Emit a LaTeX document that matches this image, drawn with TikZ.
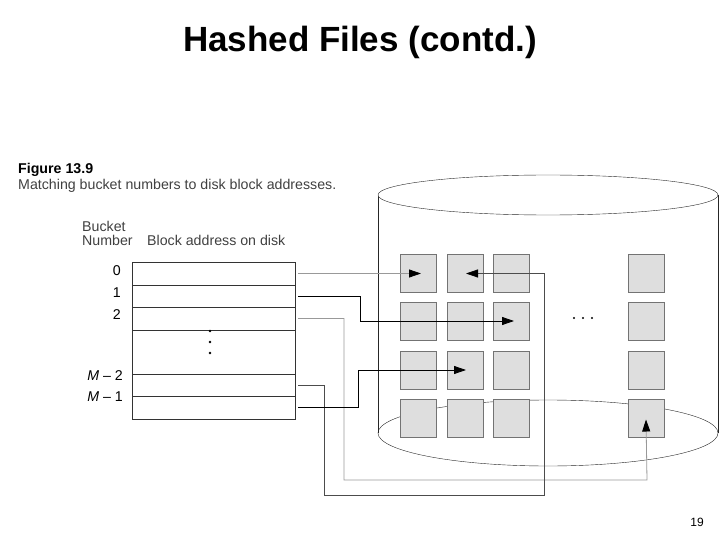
\documentclass[tikz,border=0pt]{standalone}
\usepackage{fontspec}
\setmainfont{Liberation Sans}
\usetikzlibrary{arrows.meta,calc,positioning}
\begin{document}
\begin{tikzpicture}[x=1pt,y=-1pt]
\tikzstyle{block}=[rectangle, draw=black!55, fill=black!13, minimum width=36pt, minimum height=38pt, inner sep=0pt]
\tikzstyle{row}=[rectangle, draw=black!80, minimum width=163pt, minimum height=22.5pt, inner sep=0pt]
\tikzstyle{small}=[font=\fontsize{14.2}{16}\selectfont, inner sep=0pt]
\tikzstyle{lbl}=[small, anchor=east]
\tikzstyle{connect}=[-{Triangle[black, length=12pt, width=8pt]}, thick]
\tikzstyle{grey}=[connect, black!40]
\useasboundingbox (0,0) rectangle (720,540);

  % title and caption
  \node (title) at (360,42) {\fontsize{35}{40}\selectfont\bfseries Hashed Files (contd.)};
  \node[small, anchor=west] (fig) at (18,170) {\bfseries Figure 13.9};
  \node[small, anchor=west, black!75] (cap) at (18,186) {Matching bucket numbers to disk block addresses.};
  \node[small, anchor=west, black!75] (bucket) at (82,226) {Bucket};
  \node[small, anchor=west, black!75] (number) at (82,240) {Number};
  \node[small, anchor=west, black!75] (addr) at (147,240) {Block address on disk};
  \node[font=\fontsize{12}{14}\selectfont] (page) at (697,522) {19};

  % disk
  \draw[black!85] (548,433) ellipse (170 and 33);
  \draw[black!85] (378,195) -- (378,433) (718,195) -- (718,433);
  \draw[black!85, fill=white] (548,195) ellipse (170 and 20);
  \foreach \r/\y in {0/273.5, 1/321, 2/370, 3/418.5}
    \foreach \c/\x in {0/418, 1/465, 2/511, 3/646}
      \node[block] (b\r\c) at (\x,\y) {};
  \foreach \x in {574,583,592}
    \fill (\x,318) circle (1.1);

  % bucket table
  \node[row] (r0)  at (213.5,273.5) {};
  \node[row] (r1)  at (213.5,296) {};
  \node[row] (r2)  at (213.5,318.5) {};
  \node[row, minimum height=44pt] (rd) at (213.5,352) {};
  \node[row] (rm2) at (213.5,385) {};
  \node[row] (rm1) at (213.5,407.5) {};
  \foreach \y in {331,342,353}
    \fill (210,\y) circle (1.4);
  \node[lbl] (l0)  at (121,271) {0};
  \node[lbl] (l1)  at (121,293) {1};
  \node[lbl] (l2)  at (121,315) {2};
  \node[lbl] (lm2) at (123,376) {\textit{M} -- 2};
  \node[lbl] (lm1) at (123,397) {\textit{M} -- 1};

  % pointers to blocks
  \coordinate (t0) at ($(r0.east)+(3,0)$);
  \coordinate (t1) at ($(r1.east)+(3,0)$);
  \coordinate (t2) at ($(r2.east)+(3,0)$);
  \coordinate (tm2) at ($(rm2.east)+(3,0)$);
  \coordinate (tm1) at ($(rm1.east)+(3,0)$);
  \coordinate (h00) at ($(b00)+(3,0)$);
  \coordinate (h01) at ($(b01)+(1,0)$);
  \coordinate (h12) at ($(b12)+(3,0)$);
  \coordinate (h21) at ($(b21)+(1,0)$);
  \coordinate (h33) at ($(b33)+(0,1)$);
  \draw[grey] (t0) -- (h00);
  \draw[connect] (t1) -- (360,296) -- (360,321) -- (h12);
  \draw[grey] (t2) -- (344,318.5) -- (344,480) -- (647,480) -- (h33);
  \draw[connect, black!70] (tm2) -- (324,385) -- (324,495) -- (544,495) -- (544,273.5) -- (h01);
  \draw[connect] (tm1) -- (358,407.5) -- (358,370) -- (h21);
\end{tikzpicture}
\end{document}
